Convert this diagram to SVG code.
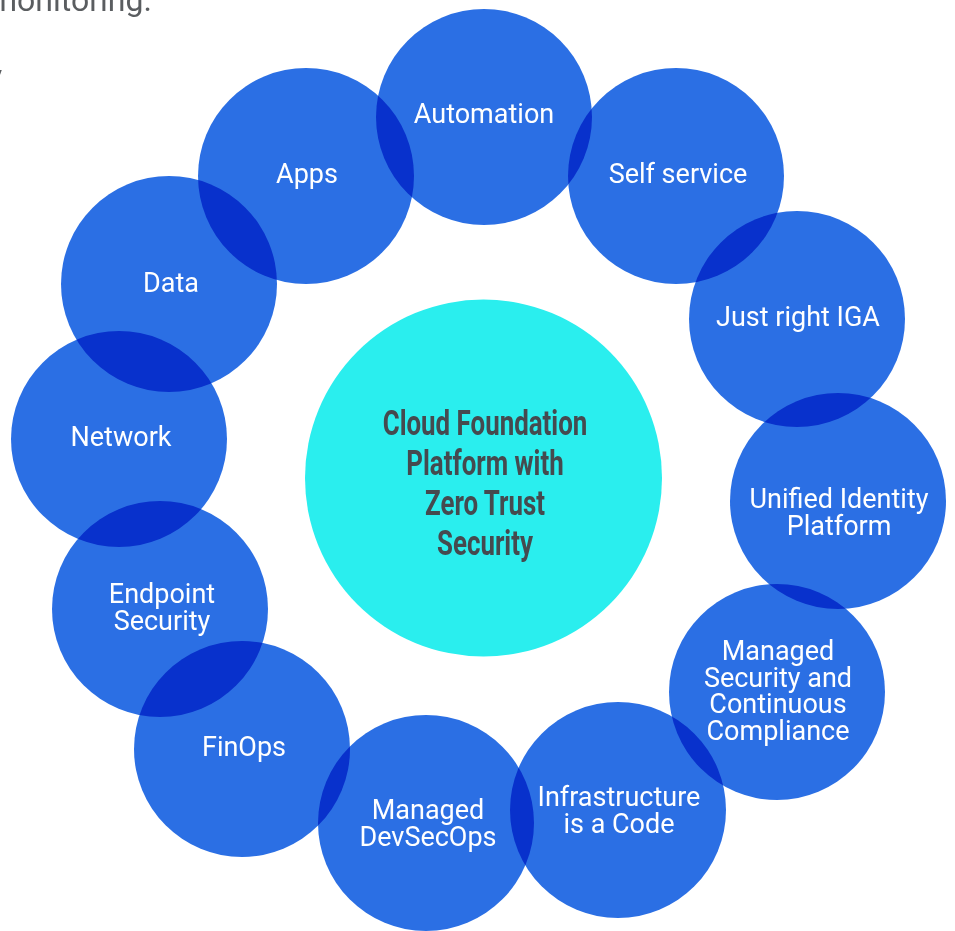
<svg xmlns="http://www.w3.org/2000/svg" width="955" height="931" viewBox="0 0 955 931">
<style>
.c{fill:#2b6fe4;mix-blend-mode:multiply}
.t{font-family:Roboto,"Liberation Sans",sans-serif;font-size:27px;fill:#ffffff;text-anchor:middle}
.bg{font-family:Roboto,"Liberation Sans",sans-serif;font-size:32px;fill:#5a5d60}
.ct{font-family:Roboto,"Liberation Sans",sans-serif;font-size:35px;font-weight:bold;fill:#454a4f;text-anchor:middle}
</style>
<rect width="955" height="931" fill="#ffffff"/>
<text class="bg" x="-11" y="11">monitoring.</text>
<text class="bg" x="-13" y="87">y</text>
<g id="ring" style="isolation:isolate">
<g id="n-automation"><circle class="c" cx="484" cy="117" r="108"/><text class="t" x="484" y="123">Automation</text></g>
<g id="n-apps"><circle class="c" cx="306" cy="176" r="108"/><text class="t" x="307" y="183">Apps</text></g>
<g id="n-self"><circle class="c" cx="676" cy="176" r="108"/><text class="t" x="678" y="183">Self service</text></g>
<g id="n-iga"><circle class="c" cx="797" cy="319" r="108"/><text class="t" x="798" y="326">Just right IGA</text></g>
<g id="n-unified"><circle class="c" cx="838" cy="501" r="108"/><text class="t" x="839" y="508">Unified Identity</text><text class="t" x="839" y="535">Platform</text></g>
<g id="n-msec"><circle class="c" cx="777" cy="692" r="108"/><text class="t" x="778" y="660">Managed</text><text class="t" x="778" y="687">Security and</text><text class="t" x="778" y="713">Continuous</text><text class="t" x="778" y="740">Compliance</text></g>
<g id="n-iac"><circle class="c" cx="618" cy="810" r="108"/><text class="t" x="619" y="806">Infrastructure</text><text class="t" x="619" y="833">is a Code</text></g>
<g id="n-devsecops"><circle class="c" cx="426" cy="823" r="108"/><text class="t" x="428" y="819">Managed</text><text class="t" x="428" y="846">DevSecOps</text></g>
<g id="n-finops"><circle class="c" cx="242" cy="749" r="108"/><text class="t" x="244" y="756">FinOps</text></g>
<g id="n-endpoint"><circle class="c" cx="160" cy="609" r="108"/><text class="t" x="162" y="603">Endpoint</text><text class="t" x="162" y="630">Security</text></g>
<g id="n-network"><circle class="c" cx="119" cy="439" r="108"/><text class="t" x="121" y="446">Network</text></g>
<g id="n-data"><circle class="c" cx="169" cy="284" r="108"/><text class="t" x="171" y="292">Data</text></g>
</g>
<g id="n-center"><circle cx="483.5" cy="478" r="178.5" fill="#2aeeee"/>
<g transform="translate(485 0) scale(0.74 1)"><text class="ct" x="0" y="435">Cloud Foundation</text><text class="ct" x="0" y="475">Platform with</text><text class="ct" x="0" y="515">Zero Trust</text><text class="ct" x="0" y="555">Security</text></g>
</g>
<g id="connectors"/>
</svg>
